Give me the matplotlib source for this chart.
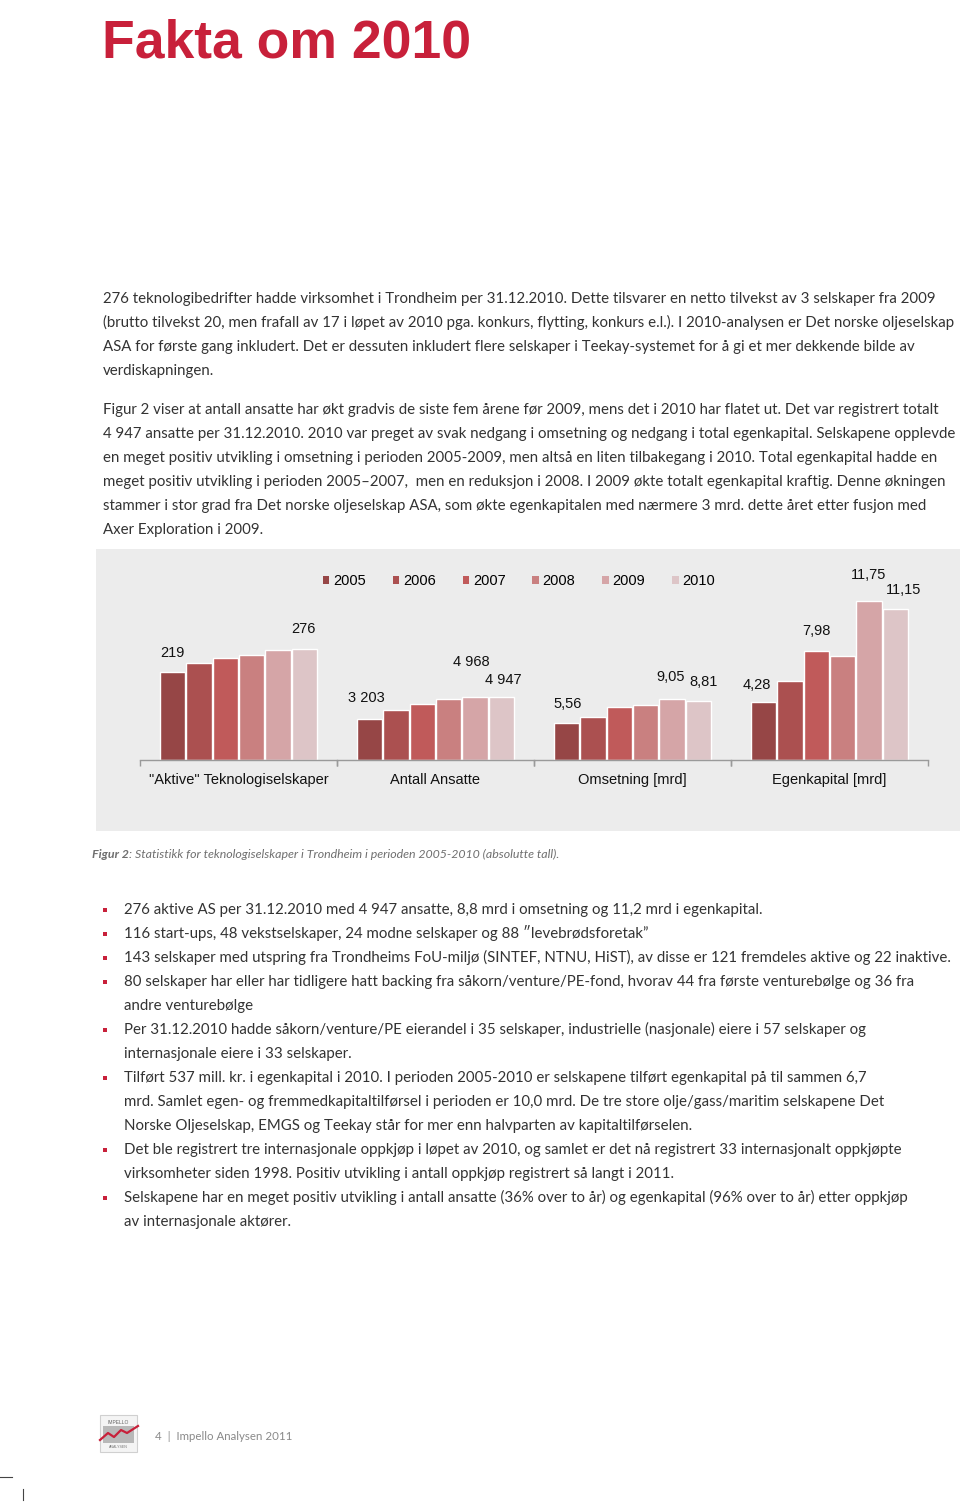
import matplotlib
matplotlib.use("Agg")
import matplotlib.pyplot as plt
from matplotlib.patches import Rectangle, Patch
from matplotlib.lines import Line2D
from matplotlib import font_manager

# ---- data ----
years = ["2005", "2006", "2007", "2008", "2009", "2010"]
categories = ['"Aktive" Teknologiselskaper', "Antall Ansatte", "Omsetning [mrd]", "Egenkapital [mrd]"]
aktive = [219, 241, 254, 260, 272, 276]
ansatte = [3203, 3920, 4400, 4770, 4968, 4947]
omsetning = [5.56, 6.46, 7.97, 8.22, 9.05, 8.81]
egenkapital = [4.28, 5.83, 8.05, 7.68, 11.75, 11.15]
groups = [aktive, ansatte, omsetning, egenkapital]

# shown labels: (bar index, text) per group
labels = [
    [(0, "219"), (5, "276")],
    [(0, "3 203"), (4, "4 968"), (5, "4 947")],
    [(0, "5,56"), (4, "9,05"), (5, "8,81")],
    [(0, "4,28"), (2, "7,98"), (4, "11,75"), (5, "11,15")],
]
# label offsets in pixels (dx, dy)
label_offsets = [
    [(0, 19), (-1, 20)],
    [(-3, 21), (-4, 35), (2, 17)],
    [(1, 19), (-1, 22), (5, 19)],
    [(-7, 17), (0, 20), (0, 26), (8, 19)],
]
# each group has its own scale
ylims = [496, 15690, 29.8, 14.78]

colors = ["#964646", "#ab5050", "#c05a5a", "#c98080", "#d5a5a7", "#ddc5c7"]

para1 = [
    "276 teknologibedrifter hadde virksomhet i Trondheim per 31.12.2010. Dette tilsvarer en netto tilvekst av 3 selskaper fra 2009",
    "(brutto tilvekst 20, men frafall av 17 i løpet av 2010 pga. konkurs, flytting, konkurs e.l.). I 2010-analysen er Det norske oljeselskap",
    "ASA for første gang inkludert. Det er dessuten inkludert flere selskaper i Teekay-systemet for å gi et mer dekkende bilde av",
    "verdiskapningen.",
]
para2 = [
    "Figur 2 viser at antall ansatte har økt gradvis de siste fem årene før 2009, mens det i 2010 har flatet ut. Det var registrert totalt",
    "4 947 ansatte per 31.12.2010. 2010 var preget av svak nedgang i omsetning og nedgang i total egenkapital. Selskapene opplevde",
    "en meget positiv utvikling i omsetning i perioden 2005-2009, men altså en liten tilbakegang i 2010. Total egenkapital hadde en",
    "meget positiv utvikling i perioden 2005–2007,  men en reduksjon i 2008. I 2009 økte totalt egenkapital kraftig. Denne økningen",
    "stammer i stor grad fra Det norske oljeselskap ASA, som økte egenkapitalen med nærmere 3 mrd. dette året etter fusjon med",
    "Axer Exploration i 2009.",
]
bullets = [
    ["276 aktive AS per 31.12.2010 med 4 947 ansatte, 8,8 mrd i omsetning og 11,2 mrd i egenkapital."],
    ["116 start-ups, 48 vekstselskaper, 24 modne selskaper og 88 \u2033levebrødsforetak\u201d"],
    ["143 selskaper med utspring fra Trondheims FoU-miljø (SINTEF, NTNU, HiST), av disse er 121 fremdeles aktive og 22 inaktive."],
    ["80 selskaper har eller har tidligere hatt backing fra såkorn/venture/PE-fond, hvorav 44 fra første venturebølge og 36 fra",
     "andre venturebølge"],
    ["Per 31.12.2010 hadde såkorn/venture/PE eierandel i 35 selskaper, industrielle (nasjonale) eiere i 57 selskaper og",
     "internasjonale eiere i 33 selskaper."],
    ["Tilført 537 mill. kr. i egenkapital i 2010. I perioden 2005-2010 er selskapene tilført egenkapital på til sammen 6,7",
     "mrd. Samlet egen- og fremmedkapitaltilførsel i perioden er 10,0 mrd. De tre store olje/gass/maritim selskapene Det",
     "Norske Oljeselskap, EMGS og Teekay står for mer enn halvparten av kapitaltilførselen."],
    ["Det ble registrert tre internasjonale oppkjøp i løpet av 2010, og samlet er det nå registrert 33 internasjonalt oppkjøpte",
     "virksomheter siden 1998. Positiv utvikling i antall oppkjøp registrert så langt i 2011."],
    ["Selskapene har en meget positiv utvikling i antall ansatte (36% over to år) og egenkapital (96% over to år) etter oppkjøp",
     "av internasjonale aktører."],
]

W, H = 960, 1502
fig = plt.figure(figsize=(W / 100, H / 100), dpi=100)
fig.patch.set_facecolor("white")


def fx(x):
    return x / W


def fy(y):
    return 1 - y / H


RED = "#c8203a"
TXT = "#333333"
BODY_SIZE = 10.85
body_font = ["Lato", "DejaVu Sans"]
chart_font = ["Liberation Sans", "DejaVu Sans"]

# title: a narrow face if there is one
installed = {f.name for f in font_manager.fontManager.ttflist}
if "Liberation Sans Narrow" in installed:
    title_font, title_size = ["Liberation Sans Narrow"], 50
else:
    title_font, title_size = ["Liberation Sans", "DejaVu Sans"], 38.5
fig.text(fx(102), fy(58), "Fakta om 2010", color=RED, fontsize=title_size, fontweight="bold",
         family=title_font, va="baseline")

# body paragraphs
y = 303
for line in para1:
    fig.text(fx(103), fy(y), line, fontsize=BODY_SIZE, color=TXT, family=body_font, va="baseline")
    y += 24
y = 414
for line in para2:
    fig.text(fx(103), fy(y), line, fontsize=BODY_SIZE, color=TXT, family=body_font, va="baseline")
    y += 24

# chart panel
fig.patches.append(Rectangle((fx(96), fy(831)), (960 - 96) / W, (831 - 549) / H,
                             transform=fig.transFigure, facecolor="#ececec", edgecolor="none", zorder=-10))

gw = 197
for i, vals in enumerate(groups):
    ax = fig.add_axes([fx(140 + i * gw), fy(760), gw / W, 200 / H])
    ax.set_zorder(5)
    ax.set_facecolor("none")
    x = list(range(len(vals)))
    ax.bar(x, vals, width=0.97, color=colors, edgecolor="white", linewidth=1.0, zorder=2)
    ax.set_xlim(-1.24, 6.24)
    ax.set_ylim(0, ylims[i])
    for s in ["top", "right", "left"]:
        ax.spines[s].set_visible(False)
    ax.spines["bottom"].set_color("#9a9a9a")
    ax.spines["bottom"].set_linewidth(1.0)
    ax.set_yticks([])
    ax.set_xticks([-1.24, 6.24])
    ax.set_xticklabels([])
    ax.tick_params(axis="x", direction="out", length=4, color="#9a9a9a", width=1.0)
    for (bi, txt), (dx, dy) in zip(labels[i], label_offsets[i]):
        ax.annotate(txt, (bi, vals[bi]), xytext=(dx * 0.72, dy * 0.72), textcoords="offset points",
                    ha="center", va="center", fontsize=10.5, family=chart_font, color="#111111",
                    annotation_clip=False)
    ax.text(0.5, -0.1, categories[i], transform=ax.transAxes, ha="center", va="center",
            fontsize=10.5, family=chart_font, color="#111111")

handles = [Patch(facecolor=c, edgecolor="none") for c in colors]
leg = fig.legend(handles, years, loc="center", bbox_to_anchor=(fx(519), fy(581)), ncol=6, frameon=False,
                 handlelength=0.45, handleheight=0.45, handletextpad=0.25, columnspacing=1.85,
                 prop={"family": chart_font, "size": 10.5})
leg.set_zorder(6)

# caption
fig.text(fx(92), fy(858), "Figur 2", fontsize=8.9, color="#6f6f6f", family=body_font,
         style="italic", fontweight="bold", va="baseline")
fig.text(fx(129), fy(858), ": Statistikk for teknologiselskaper i Trondheim i perioden 2005-2010 (absolutte tall).",
         fontsize=8.9, color="#6f6f6f", family=body_font, style="italic", va="baseline")

# bullets
y = 914
for b in bullets:
    fig.patches.append(Rectangle((fx(103), fy(y - 2)), 4 / W, 4 / H, transform=fig.transFigure,
                                 facecolor=RED, edgecolor="none"))
    for line in b:
        fig.text(fx(124), fy(y), line, fontsize=BODY_SIZE, color=TXT, family=body_font, va="baseline")
        y += 24

# footer logo
fig.patches.append(Rectangle((fx(100), fy(1452)), 37 / W, 37 / H, transform=fig.transFigure,
                             facecolor="#f4f4f4", edgecolor="#d0d0d0", linewidth=0.8))
fig.patches.append(Rectangle((fx(103), fy(1443)), 31 / W, 17 / H, transform=fig.transFigure,
                             facecolor="#b8b8b8", edgecolor="none"))
fig.lines.append(Line2D([fx(100), fx(108), fx(114), fx(121), fx(127), fx(138)],
                        [fy(1440), fy(1433), fy(1437), fy(1430), fy(1433), fy(1426)],
                        transform=fig.transFigure, color="#c8203a", linewidth=1.6))
fig.text(fx(118.5), fy(1422), "IMPELLO", fontsize=3.6, color="#666666", ha="center", va="center",
         family=chart_font)
fig.text(fx(118.5), fy(1447), "ANALYSEN", fontsize=2.6, color="#777777", ha="center", va="center",
         family=chart_font)
fig.text(fx(155), fy(1437), "4  |  Impello Analysen 2011", fontsize=8.3, color="#8a8a8a",
         family=body_font, va="center")

# crop marks
fig.lines.append(Line2D([fx(0), fx(12)], [fy(1477), fy(1477)], transform=fig.transFigure,
                        color="#444444", linewidth=0.8))
fig.lines.append(Line2D([fx(23), fx(23)], [fy(1489), fy(1500)], transform=fig.transFigure,
                        color="#444444", linewidth=0.8))

fig.savefig("out.png", dpi=100, facecolor="white")
